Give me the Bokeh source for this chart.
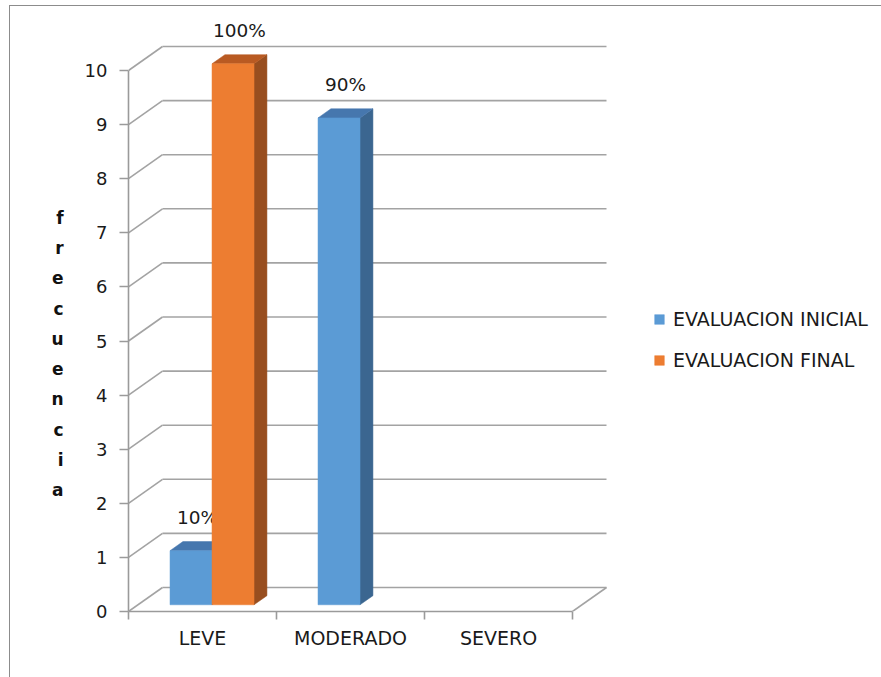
from bokeh.plotting import figure
from bokeh.models import (Range1d, FixedTicker, Legend, LegendItem,
                          ColumnDataSource, InlineStyleSheet)
from bokeh.embed import file_html
from bokeh.resources import INLINE

# ---- data -------------------------------------------------------------
categories = ["LEVE", "MODERADO", "SEVERO"]
series_names = ["EVALUACION INICIAL", "EVALUACION FINAL"]
inicial = [1, 9, 0]
final = [10, 0, 0]
total = 10
y_ticks = list(range(0, 11))
axis_title = "frecuencia"

# ---- style ------------------------------------------------------------
FONT = "DejaVu Sans"
TEXT = "#1a1a1a"
front_colors = ["#5B9BD5", "#ED7D31"]
top_colors = ["#4677AE", "#B95A22"]
side_colors = ["#3B6690", "#984E1F"]
GRID = "#A3A3A3"
AXIS = "#9A9A9A"

PX_X = 148.0          # pixels per category
PX_Y = 54.1           # pixels per frequency unit
FRAME_W, FRAME_H = 750, 606
B_LEFT, B_RIGHT, B_TOP, B_BOTTOM = 128, 3, 5, 66

DX = 34 / PX_X        # depth of the 3-D box along x (data units)
DY = 24 / PX_Y        # depth of the 3-D box along y (data units)
BAR_W = 42 / PX_X
Z0, Z1 = 0.28, 0.66   # bar depth, as fractions of the box depth

p = figure(frame_width=FRAME_W, frame_height=FRAME_H,
           min_border_left=B_LEFT, min_border_right=B_RIGHT,
           min_border_top=B_TOP, min_border_bottom=B_BOTTOM,
           x_range=Range1d(0, FRAME_W / PX_X), y_range=Range1d(0, FRAME_H / PX_Y),
           output_backend="svg", toolbar_location=None, tools="")
p.outline_line_color = None
p.xgrid.visible = False
p.ygrid.visible = False
p.background_fill_color = "white"
p.border_fill_color = "white"

n_cat = len(categories)
ymax = max(y_ticks)

# ---- back wall, side wall and floor lines -----------------------------
p.segment(x0=[DX] * len(y_ticks), y0=[t + DY for t in y_ticks],
          x1=[n_cat + DX] * len(y_ticks), y1=[t + DY for t in y_ticks],
          line_color=GRID, line_width=1.6)
p.segment(x0=[0] * len(y_ticks), y0=y_ticks,
          x1=[DX] * len(y_ticks), y1=[t + DY for t in y_ticks],
          line_color=GRID, line_width=1.6)
p.segment(x0=[n_cat], y0=[0], x1=[n_cat + DX], y1=[DY],
          line_color=GRID, line_width=1.6)

# ---- 3-D columns --------------------------------------------------------
legend_items = []
for j, (name, vals) in enumerate(zip(series_names, [inicial, final])):
    idx = [i for i, v in enumerate(vals) if v > 0]
    v = [vals[i] for i in idx]
    x0 = [i + 0.5 - BAR_W + j * BAR_W + Z0 * DX for i in idx]
    x1 = [a + BAR_W for a in x0]
    dzx, dzy = (Z1 - Z0) * DX, (Z1 - Z0) * DY
    base = Z0 * DY

    side_xs = [[b, b + dzx, b + dzx, b] for b in x1]
    side_ys = [[base, base + dzy, h + base + dzy, h + base] for h in v]
    top_xs = [[a, b, b + dzx, a + dzx] for a, b in zip(x0, x1)]
    top_ys = [[h + base, h + base, h + base + dzy, h + base + dzy] for h in v]

    p.patches(xs=side_xs, ys=side_ys, fill_color=side_colors[j],
              line_color=side_colors[j], line_width=0.5)
    p.patches(xs=top_xs, ys=top_ys, fill_color=top_colors[j],
              line_color=top_colors[j], line_width=0.5)
    src = ColumnDataSource(dict(left=x0, right=x1, bottom=[base] * len(v),
                                top=[h + base for h in v]))
    fr = p.quad(left="left", right="right", bottom="bottom", top="top", source=src,
                fill_color=front_colors[j], line_color=front_colors[j], line_width=0.5)
    legend_items.append(LegendItem(label=name, renderers=[fr]))

    # percentage labels above the columns
    p.text(x=[(a + b) / 2 + dzx / 2 for a, b in zip(x0, x1)],
           y=[h + 0.74 for h in v],
           text=[f"{h / total * 100:.0f}%" for h in v],
           text_align="center", text_baseline="middle",
           text_font={"value": FONT}, text_font_size="18.5px", text_color=TEXT)

# ---- axes ----------------------------------------------------------------
yax = p.yaxis[0]
yax.ticker = FixedTicker(ticks=y_ticks, minor_ticks=[])
yax.bounds = (0, ymax)
yax.axis_line_color = AXIS
yax.axis_line_width = 1.6
yax.major_tick_line_color = AXIS
yax.major_tick_line_width = 1.6
yax.major_tick_out = 9
yax.major_tick_in = 0
yax.major_label_standoff = 12
yax.major_label_text_font = FONT
yax.major_label_text_font_size = "18px"
yax.major_label_text_color = TEXT

# vertical, letter-by-letter axis title (leading blank lines lower the block)
yax.axis_label = "\n" * 3 + "\n".join(axis_title)
yax.axis_label_orientation = "horizontal"
yax.axis_label_text_font = FONT
yax.axis_label_text_font_style = "bold"
yax.axis_label_text_font_size = "17px"
yax.axis_label_text_line_height = 1.515
yax.axis_label_text_color = "#111111"
yax.axis_label_standoff = 18

xax = p.xaxis[0]
xax.ticker = FixedTicker(ticks=[i + 0.5 for i in range(n_cat)],
                         minor_ticks=list(range(n_cat + 1)))
xax.bounds = (0, n_cat)
xax.major_label_overrides = {i + 0.5: c for i, c in enumerate(categories)}
xax.axis_line_color = AXIS
xax.axis_line_width = 1.6
xax.major_tick_line_color = None
xax.major_tick_out = 0
xax.major_tick_in = 0
xax.minor_tick_line_color = AXIS
xax.minor_tick_line_width = 1.6
xax.minor_tick_out = 8
xax.minor_tick_in = 0
xax.major_label_standoff = 7
xax.major_label_text_font = FONT
xax.major_label_text_font_size = "19px"
xax.major_label_text_color = TEXT

# ---- legend ----------------------------------------------------------------
legend = Legend(items=legend_items, location=(525, 240), orientation="vertical",
                glyph_width=12, glyph_height=12, label_standoff=8, spacing=19,
                padding=0, margin=0, border_line_color=None,
                background_fill_alpha=0,
                label_text_font=FONT, label_text_font_size="19px",
                label_text_color=TEXT)
p.add_layout(legend)

# ---- chart area border (left and top edges) --------------------------------
p.stylesheets = [InlineStyleSheet(css="""
:host { position: relative; }
:host::after {
  content: ""; position: absolute; left: 9px; top: 5px; right: 0; bottom: 0;
  border-left: 1.5px solid #8C8C8C; border-top: 1.5px solid #8C8C8C;
  pointer-events: none; z-index: 10;
}
""")]

open("out.html", "w").write(file_html(p, INLINE))
